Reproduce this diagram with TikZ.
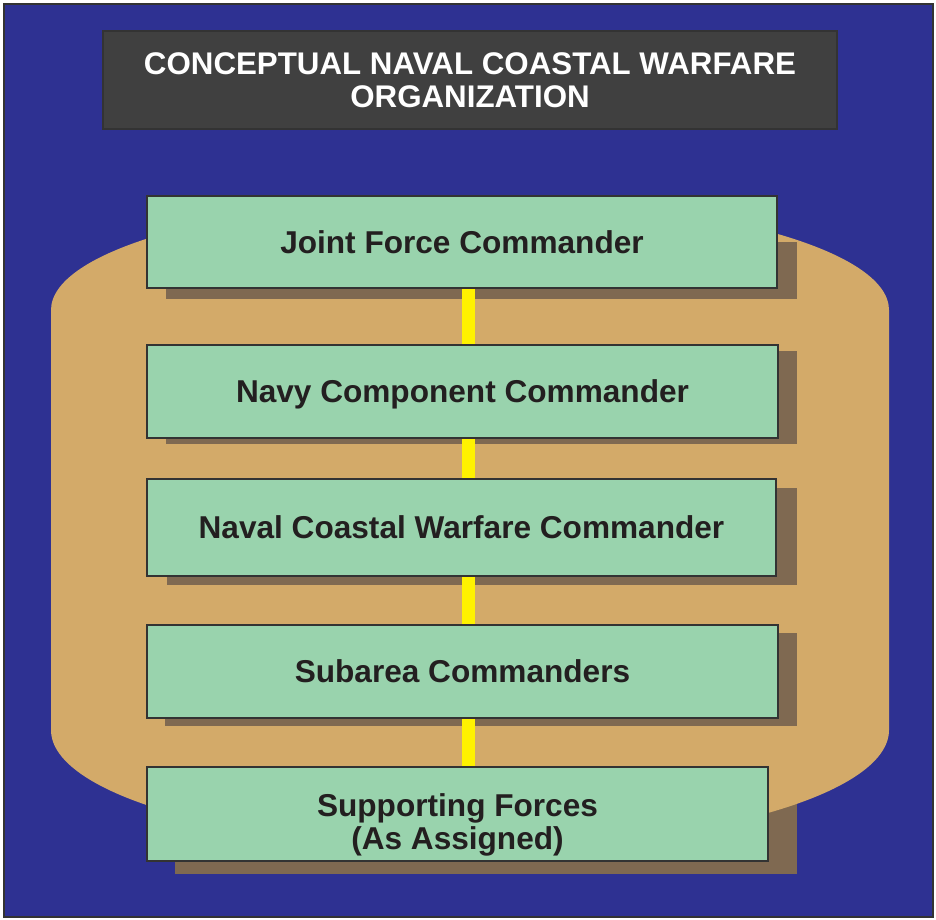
\documentclass[tikz,border=0pt]{standalone}
\usepackage{fontspec}
\setmainfont{Liberation Sans}
\definecolor{ncblue}{HTML}{2E3192}
\definecolor{nctan}{HTML}{D3AA69}
\definecolor{ncshade}{HTML}{7F6951}
\definecolor{ncgreen}{HTML}{99D3AD}
\definecolor{ncyellow}{HTML}{FFF200}
\definecolor{nctitle}{HTML}{404040}
\definecolor{ncink}{HTML}{231F20}
\definecolor{ncedge}{HTML}{333333}
\pgfdeclarelayer{bg}
\pgfdeclarelayer{mid}
\pgfsetlayers{bg,mid,main}
\tikzset{
  nc text/.style={font=\bfseries\fontsize{31.6}{33}\selectfont, text=ncink},
  nc title/.style={draw=ncedge, line width=1.2pt, fill=nctitle, text=white,
    font=\bfseries\fontsize{31.3}{33}\selectfont,
    minimum width=734pt, minimum height=98pt, align=center, inner sep=0pt},
  nc box/.style={draw=ncedge, line width=1.5pt, fill=ncgreen,
    minimum width=630pt, minimum height=92pt, align=center, inner sep=0pt,
    text height=24pt, text depth=2pt},
  nc shadow/.style={fill=ncshade},
  nc link/.style={draw=ncyellow, line width=13pt}
}
\begin{document}
\begin{tikzpicture}[nc text, x=1pt, y=-1pt]
  \useasboundingbox (0,0) rectangle (936,919);
  \node[nc title] (title) at (470,80) {CONCEPTUAL NAVAL COASTAL WARFARE\\ORGANIZATION};
  \node[nc box] (jfc) at (462,242) {Joint Force Commander};
  \node[nc box, minimum width=631pt, minimum height=93pt] (ncc) at (462.5,391.5) {Navy Component Commander};
  \node[nc box, minimum width=629pt, minimum height=97pt] (ncwc) at (461.5,527.5) {Naval Coastal Warfare Commander};
  \node[nc box, minimum width=631pt, minimum height=93pt] (sac) at (462.5,671.5) {Subarea Commanders};
  \node[nc box, minimum width=621pt, minimum height=94pt, text height=75pt, text depth=5pt] (sf) at (457.5,814) {Supporting Forces\\(As Assigned)};
  \coordinate (spine) at (468.5,0);
  \begin{pgfonlayer}{bg}
    \fill[white] (0,0) rectangle (936,919);
    \fill[ncblue, draw=ncedge, line width=1.5pt] (4,4) rectangle (933,917);
    \fill[nc shadow] (175,777) rectangle (797,874);
    % rounded drum behind the chain
    \fill[nctan] (51,310) -- (51,730)
      arc[start angle=180, end angle=0, x radius=419, y radius=118]
      -- (889,310)
      arc[start angle=0, end angle=-180, x radius=419, y radius=112] -- cycle;
    \fill[nc shadow] (166,242) rectangle (797,299);
    \fill[nc shadow] (166,351) rectangle (797,444);
    \fill[nc shadow] (167,488) rectangle (797,585);
    \fill[nc shadow] (165,633) rectangle (797,726);
  \end{pgfonlayer}
  \begin{pgfonlayer}{mid}
    \draw[nc link] (jfc.south -| spine) -- (ncc.north -| spine);
    \draw[nc link] (ncc.south -| spine) -- (ncwc.north -| spine);
    \draw[nc link] (ncwc.south -| spine) -- (sac.north -| spine);
    \draw[nc link] (sac.south -| spine) -- (sf.north -| spine);
  \end{pgfonlayer}
\end{tikzpicture}
\end{document}
